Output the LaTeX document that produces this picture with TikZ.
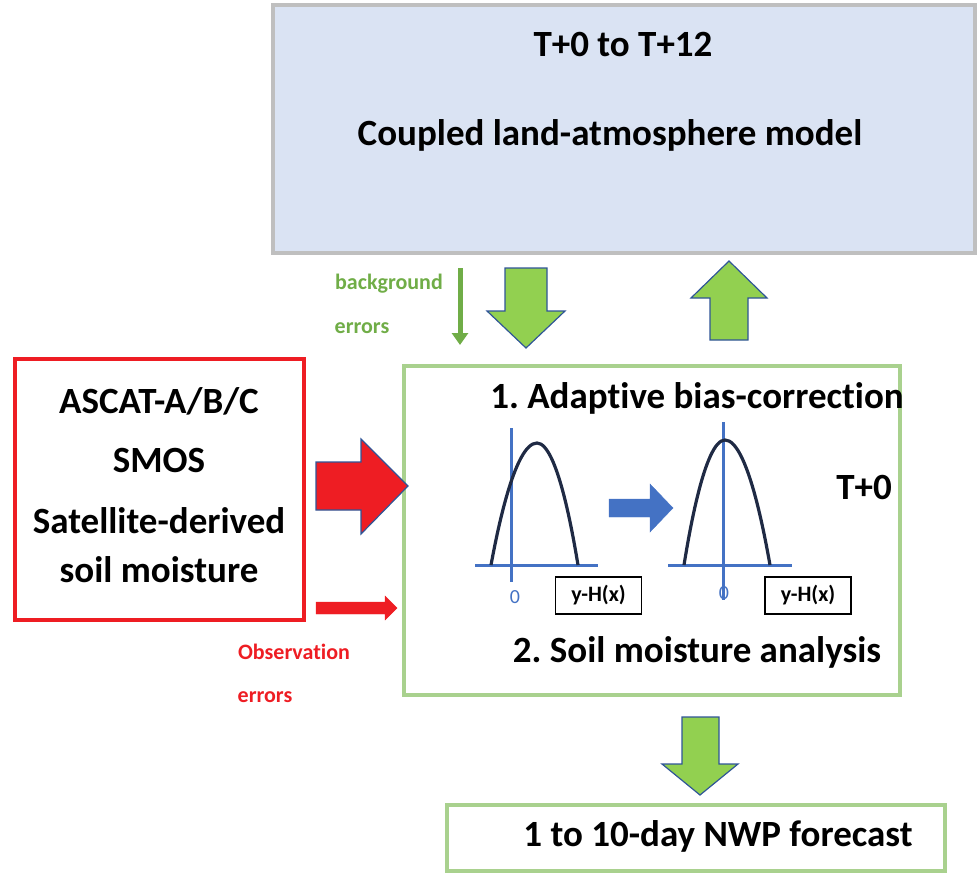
\documentclass[tikz,border=0pt]{standalone}
\usepackage{fontspec}
\setmainfont[Ligatures=NoCommon]{Carlito}
\frenchspacing
\usetikzlibrary{arrows.meta}
\definecolor{boxblue}{HTML}{DAE3F3}
\definecolor{boxgray}{HTML}{BFBFBF}
\definecolor{lgreen}{HTML}{A9D18E}
\definecolor{agreen}{HTML}{92D050}
\definecolor{dgreen}{HTML}{70AD47}
\definecolor{outblue}{HTML}{2F5597}
\definecolor{mblue}{HTML}{4472C4}
\definecolor{curve}{HTML}{1F2A44}
\definecolor{myred}{HTML}{EE1D23}
\tikzset{
  big/.style={font=\bfseries\fontsize{37}{42}\selectfont},
  small/.style={font=\bfseries\fontsize{22}{26}\selectfont},
  blockarrow/.style={fill=agreen,draw=outblue,line width=1.2pt,line join=miter},
  redarrow/.style={fill=myred,draw=outblue,line width=1.2pt,line join=miter},
  axis/.style={draw=mblue,line width=3pt},
  bell/.style={draw=curve,line width=3.2pt},
  zero/.style={text=mblue,font=\fontsize{20}{24}\selectfont},
  xbox/.style={draw=black,line width=1.3pt,minimum width=86pt,minimum height=37pt,inner sep=0pt,font=\bfseries\fontsize{22}{24}\selectfont}
}
\begin{document}
\begin{tikzpicture}[x=1pt,y=-1pt]
\useasboundingbox (0,0) rectangle (980,888);
% top model box
\draw[draw=boxgray,fill=boxblue,line width=4pt] (273,5) rectangle (975,253);
\node[big] (t012) at (623,45) {T+0 to T+12};
\node[big] (model) at (610,135) {Coupled land-atmosphere model};
% background errors
\node[small,text=dgreen] (bg1) at (389,284) {background};
\node[small,text=dgreen] (bg2) at (362,328) {errors};
\coordinate (bgs) at (460,268);
\coordinate (bge) at (460,345);
\draw[dgreen,line width=5pt,-{Triangle[width=16pt,length=12pt]}] (bgs) -- (bge);
% big down arrow
\draw[blockarrow] (505,268) -- (547,268) -- (547,311) -- (565,311) -- (526,348) -- (487,311) -- (505,311) -- cycle;
% big up arrow
\draw[blockarrow] (710,340) -- (748,340) -- (748,298) -- (767,298) -- (729,261) -- (691,298) -- (710,298) -- cycle;
% middle box
\draw[draw=lgreen,line width=4pt] (404,366) rectangle (900,695);
\node[big] (s1) at (697,398) {1. Adaptive bias-correction};
\node[big] (s2) at (697,652) {2. Soil moisture analysis};
\node[big] (t0) at (864,487) {T+0};
% left distribution
\draw[axis] (475,565) -- (598,565);
\draw[axis] (511,428) -- (511,582);
\draw[bell] (491,565) parabola bend (537,443) (578,565);
\node[zero] (z1) at (515,597) {0};
\node[xbox] (y1) at (598.5,595.5) {y-H(x)};
% right distribution
\draw[axis] (668,565) -- (792,565);
\draw[axis] (723,422) -- (723,600);
\draw[bell] (684,565) parabola bend (725,440) (770,565);
\node[zero] (z2) at (724,593) {0};
\node[xbox] (y2) at (808,595.5) {y-H(x)};
% blue arrow
\draw[fill=mblue,draw=mblue] (609,499) -- (650,499) -- (650,484) -- (673,508) -- (650,532) -- (650,517) -- (609,517) -- cycle;
% red box
\draw[draw=myred,line width=4pt] (15,359) rectangle (304,620);
\node[big] (a1) at (159,401) {ASCAT-A/B/C};
\node[big] (a2) at (159,460) {SMOS};
\node[big] (a3) at (159,521) {Satellite-derived};
\node[big] (a4) at (159,570) {soil moisture};
% red big arrow
\draw[redarrow] (316,462) -- (361,462) -- (361,439) -- (408,486) -- (361,534) -- (361,510) -- (316,510) -- cycle;
% red small arrow
\draw[fill=myred,draw=myred] (316,602) -- (385,602) -- (385,596) -- (397,608) -- (385,620) -- (385,614) -- (316,614) -- cycle;
\node[small,text=myred] (o1) at (294,652) {Observation};
\node[small,text=myred] (o2) at (265,697) {errors};
% bottom arrow
\draw[blockarrow] (682,717) -- (719,717) -- (719,764) -- (738,764) -- (700,795) -- (662,764) -- (682,764) -- cycle;
% bottom box
\draw[draw=lgreen,line width=4pt] (447,805) rectangle (945,871);
\node[big] (nwp) at (718,836) {1 to 10-day NWP forecast};
\end{tikzpicture}
\end{document}
